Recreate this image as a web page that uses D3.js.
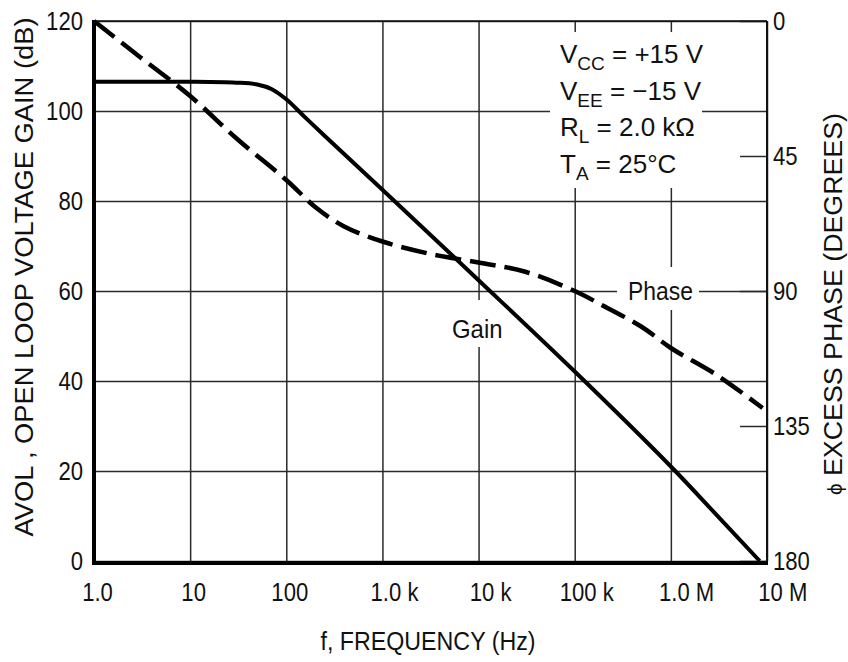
<!DOCTYPE html>
<html>
<head>
<meta charset="utf-8">
<script src="https://cdn.jsdelivr.net/npm/d3@7"></script>
<style>
  body { margin: 0; background: #fff; }
  svg text { font-family: "Liberation Sans", Arial, sans-serif; fill: #111; }
</style>
</head>
<body>
<div id="chart"></div>
<script>

//******************************************************************************
//**  Data
//******************************************************************************
var gainFreq = [1, 10, 30, 50, 70, 100, 150, 250, 1000, 10000, 100000, 1000000, 3000000, 8400000];
var gainDb   = [106.5, 106.5, 106.3, 105.9, 104.9, 102.6, 99, 94.5, 82.5, 62.4, 42.1, 21, 10.2, 0];

var phaseFreq = [1, 3, 10, 30, 100, 200, 400, 1000, 3000, 10000, 30000, 100000, 200000, 500000, 1000000, 3000000, 9000000];
var phaseDeg  = [0, 12, 25, 39, 53, 62, 68.5, 73.5, 77.5, 80.5, 83.5, 90, 95, 102, 109, 118, 129];

var freqTicks  = [1, 10, 100, 1e3, 1e4, 1e5, 1e6, 1e7];
var freqLabels = ["1.0", "10", "100", "1.0 k", "10 k", "100 k", "1.0 M", "10 M"];
var gainTicks  = [0, 20, 40, 60, 80, 100, 120];
var phaseTicks = [0, 45, 90, 135, 180];

var conditions = [
    ["V", "CC", " = +15 V"],
    ["V", "EE", " = \u221215 V"],
    ["R", "L", " = 2.0 k\u03A9"],
    ["T", "A", " = 25\u00B0C"]
];


//******************************************************************************
//**  Chart
//******************************************************************************
var width = 848, height = 662;
var plotLeft = 94, plotRight = 767, plotTop = 21, plotBottom = 561;
var fontSize = 26;

var svg = d3.select("#chart").append("svg")
    .attr("width", width)
    .attr("height", height);

var x = d3.scaleLog().domain([1, 1e7]).range([plotLeft, plotRight]);
var yGain = d3.scaleLinear().domain([0, 120]).range([plotBottom, plotTop]);
var yPhase = d3.scaleLinear().domain([0, 180]).range([plotTop, plotBottom]);


  //**************************************************************************
  //** squeeze - font here is wider than the datasheet's narrow face
  //**************************************************************************
    var squeeze = function(sel, ratio){
        sel.each(function(){
            var w = this.getComputedTextLength();
            d3.select(this)
                .attr("textLength", w * ratio)
                .attr("lengthAdjust", "spacingAndGlyphs");
        });
    };


  //**************************************************************************
  //** grid + axes
  //**************************************************************************
    var xAxis = svg.append("g")
        .attr("transform", "translate(0," + plotBottom + ")")
        .call(d3.axisBottom(x)
            .tickValues(freqTicks)
            .tickFormat(function(d, i){ return freqLabels[i]; })
            .tickSize(-(plotBottom - plotTop))
            .tickPadding(22));

    var yAxis = svg.append("g")
        .attr("transform", "translate(" + plotLeft + ",0)")
        .call(d3.axisLeft(yGain)
            .tickValues(gainTicks)
            .tickSize(-(plotRight - plotLeft))
            .tickPadding(11));

    var pAxis = svg.append("g")
        .attr("transform", "translate(" + plotRight + ",0)")
        .call(d3.axisRight(yPhase)
            .tickValues(phaseTicks)
            .tickSize(-27)
            .tickPadding(6));

    [xAxis, yAxis, pAxis].forEach(function(g){
        g.attr("font-family", null).attr("font-size", null);
        g.select(".domain").remove();
        g.selectAll(".tick line").attr("stroke", "#2a2a2a").attr("stroke-width", 1.5);
        g.selectAll(".tick text")
            .attr("font-size", fontSize)
            .attr("fill", "#111");
    });

    var tickRatio = 0.85;
    squeeze(yAxis.selectAll(".tick text"), tickRatio);
    squeeze(pAxis.selectAll(".tick text"), tickRatio);

  //Center the number part of each frequency label on its grid line
    xAxis.selectAll(".tick text").each(function(d, i){
        var label = freqLabels[i];
        var full = this.getComputedTextLength();
        this.textContent = label.split(" ")[0];
        var num = this.getComputedTextLength();
        this.textContent = label;
        d3.select(this)
            .attr("text-anchor", "start")
            .attr("x", -num * tickRatio / 2 + 3)
            .attr("textLength", full * tickRatio)
            .attr("lengthAdjust", "spacingAndGlyphs");
    });


  //**************************************************************************
  //** white patches behind labels
  //**************************************************************************
    svg.append("rect").attr("x", 550).attr("y", 32).attr("width", 152).attr("height", 156).attr("fill", "#fff");
    svg.append("rect").attr("x", 617).attr("y", 267).attr("width", 82).attr("height", 43).attr("fill", "#fff");
    svg.append("rect").attr("x", 447).attr("y", 300).attr("width", 60).attr("height", 47).attr("fill", "#fff");


  //**************************************************************************
  //** curves
  //**************************************************************************
    var gainLine = d3.line()
        .x(function(d){ return x(d[0]); })
        .y(function(d){ return yGain(d[1]); })
        .curve(d3.curveCatmullRom.alpha(0.5));

    var phaseLine = d3.line()
        .x(function(d){ return x(d[0]); })
        .y(function(d){ return yPhase(d[1]); })
        .curve(d3.curveCatmullRom.alpha(0.5));

    svg.append("path")
        .datum(d3.zip(gainFreq, gainDb))
        .attr("d", gainLine)
        .attr("fill", "none")
        .attr("stroke", "#000")
        .attr("stroke-width", 4);

    svg.append("path")
        .datum(d3.zip(phaseFreq, phaseDeg))
        .attr("d", phaseLine)
        .attr("fill", "none")
        .attr("stroke", "#000")
        .attr("stroke-width", 4.5)
        .attr("stroke-dasharray", "26,9");


  //**************************************************************************
  //** frame
  //**************************************************************************
    svg.append("line").attr("x1", plotLeft).attr("x2", plotRight).attr("y1", plotTop).attr("y2", plotTop)
        .attr("stroke", "#111").attr("stroke-width", 1.5);
    svg.append("line").attr("x1", plotRight).attr("x2", plotRight).attr("y1", plotTop).attr("y2", plotBottom + 3)
        .attr("stroke", "#111").attr("stroke-width", 2);
    svg.append("line").attr("x1", plotLeft).attr("x2", plotLeft).attr("y1", plotTop - 1).attr("y2", plotBottom + 4)
        .attr("stroke", "#000").attr("stroke-width", 4);
    svg.append("line").attr("x1", plotLeft - 2).attr("x2", plotRight + 1).attr("y1", plotBottom + 2).attr("y2", plotBottom + 2)
        .attr("stroke", "#000").attr("stroke-width", 4);


  //**************************************************************************
  //** text
  //**************************************************************************
    var cond = svg.append("g");
    conditions.forEach(function(c, i){
        var t = cond.append("text")
            .attr("x", 560)
            .attr("y", 63 + i * 36.7)
            .attr("font-size", fontSize);
        t.append("tspan").text(c[0]);
        t.append("tspan").attr("dy", 7).attr("font-size", 19).text(c[1]);
        t.append("tspan").attr("dy", -7).text(c[2]);
    });

    var phaseLabel = svg.append("text")
        .attr("x", 628).attr("y", 300)
        .attr("font-size", fontSize)
        .text("Phase");
    squeeze(phaseLabel, 0.88);

    var gainLabel = svg.append("text")
        .attr("x", 452).attr("y", 338)
        .attr("font-size", fontSize)
        .text("Gain");
    squeeze(gainLabel, 0.92);

    svg.append("text")
        .attr("x", 428).attr("y", 650)
        .attr("text-anchor", "middle")
        .attr("font-size", fontSize)
        .attr("textLength", 215)
        .attr("lengthAdjust", "spacingAndGlyphs")
        .text("f, FREQUENCY (Hz)");

    svg.append("text")
        .attr("transform", "translate(33,277) rotate(-90)")
        .attr("text-anchor", "middle")
        .attr("font-size", fontSize)
        .attr("textLength", 519)
        .attr("lengthAdjust", "spacingAndGlyphs")
        .text("AVOL , OPEN LOOP VOLTAGE GAIN (dB)");

    var pt = svg.append("text")
        .attr("transform", "translate(842,304) rotate(-90)")
        .attr("text-anchor", "middle")
        .attr("font-size", fontSize)
        .attr("textLength", 382)
        .attr("lengthAdjust", "spacingAndGlyphs");
    pt.append("tspan").attr("font-size", 20).text("\u03D5");
    pt.append("tspan").text(" EXCESS PHASE (DEGREES)");

</script>
</body>
</html>
